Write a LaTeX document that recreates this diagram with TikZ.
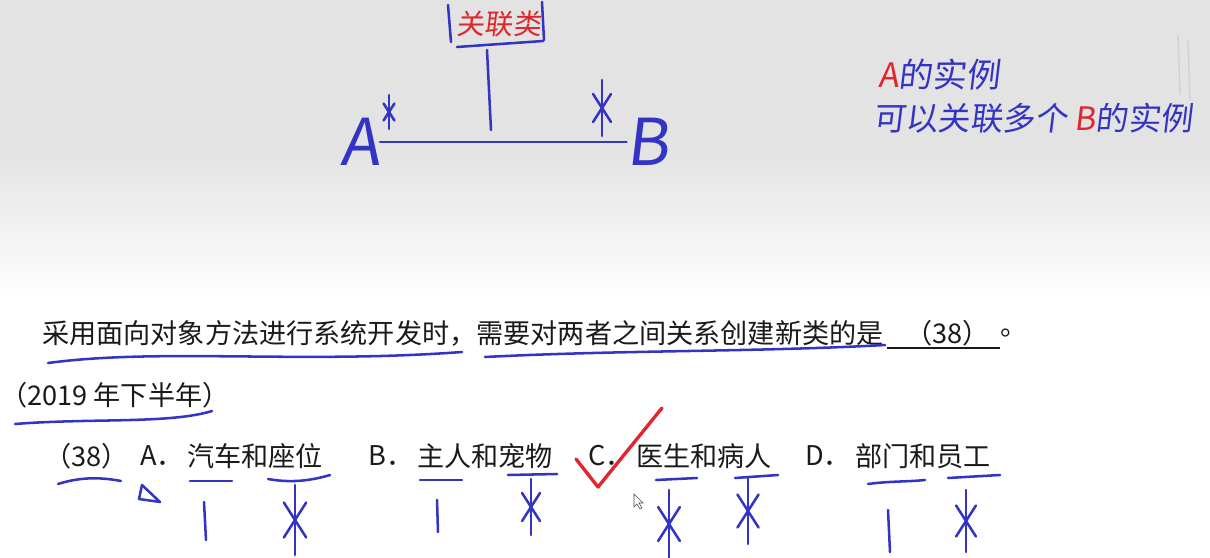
\documentclass[tikz,border=0pt]{standalone}
\usepackage{fontspec}
\newfontfamily\cjk{Noto Sans CJK SC}
\newfontfamily\handfont[FakeSlant=0.12]{Noto Sans CJK SC}
\usetikzlibrary{positioning}
\definecolor{penblue}{HTML}{3434C4}
\definecolor{penred}{HTML}{E0262E}
\definecolor{ink}{HTML}{1A1A1A}
\tikzset{
  pen/.style={draw=penblue,line width=1.8pt,line cap=round,line join=round},
  redpen/.style={pen,draw=penred},
  prt/.style={font=\cjk\fontsize{19.3}{23}\selectfont,text=ink,inner sep=0pt,anchor=west},
  hand/.style={font=\handfont\fontsize{23}{27}\selectfont,text=penblue,inner sep=0pt},
  big/.style={font=\handfont\fontsize{46}{50}\selectfont,text=penblue,inner sep=0pt},
  starmk/.pic={\draw[pen](0,-1)--(0,1);\draw[pen](-0.32,-0.5)--(0.32,0.5);\draw[pen](0.32,-0.5)--(-0.32,0.5);},
}
\begin{document}
\begin{tikzpicture}[x=0.025cm,y=-0.025cm]
\useasboundingbox (0,0) rectangle (1210,558);
% slide background
\fill[black!11] (0,0) rectangle (1210,150);
\shade[top color=black!11,bottom color=white] (0,150) rectangle (1210,300);
% association class sketch
\node[hand,text=penred,font=\handfont\fontsize{20}{24}\selectfont] (assoc) at (499,24) {关联类};
\draw[pen] (448,5) -- (451,42);
\draw[pen] (457,47) -- (543,41);
\draw[pen] (542,2) -- (544,40);
\node[big] (A) at (360,142) {A};
\node[big] (B) at (648,142) {B};
\draw[pen] (A.east) -- (B.west);
\draw[pen] (487,50) -- (491,130);
\pic[scale=17] at (389,112) {starmk};
\pic[scale=28] at (602,108) {starmk};
% note
\node[hand,anchor=west,font=\handfont\fontsize{24}{28}\selectfont] (noteA) at (878,75) {\textcolor{penred}{A}的实例};
\node[hand,anchor=west] (noteB) at (873,118) {可以关联多个 \textcolor{penred}{B}的实例};
\draw[black!18,line width=1pt] (1178,35) -- (1180,95);
\draw[black!18,line width=1pt] (1188,40) -- (1190,100);
% question
\node[prt] (stem) at (42,333) {采用面向对象方法进行系统开发时，需要对两者之间关系创建新类的是};
\node[prt] (blank) at (905,333) {（38）};
\draw[ink,line width=1.1pt] (887,348) -- (1000,348);
\node[prt] (stop) at (1000,333) {。};
\draw[pen] (48,363) .. controls (160,348) and (300,364) .. (462,352);
\draw[pen] (485,357) .. controls (620,350) and (760,352) .. (885,345);
\node[prt] (year) at (0,395) {（2019 年下半年）};
\draw[pen] (15,424) .. controls (90,418) and (170,424) .. (212,411);
% options
\node[prt] (qno) at (44,456) {（38）};
\node[prt] (optA) at (140,456) {A．};
\node[prt] (txtA) at (187,456) {汽车和座位};
\node[prt] (optB) at (368,456) {B．};
\node[prt] (txtB) at (417,456) {主人和宠物};
\node[prt] (optC) at (588,456) {C．};
\node[prt] (txtC) at (636,456) {医生和病人};
\node[prt] (optD) at (805,456) {D．};
\node[prt] (txtD) at (855,456) {部门和员工};
% marks under options
\draw[pen] (58,484) .. controls (80,477) and (100,477) .. (121,481);
\draw[pen] (142,485) -- (139,499) -- (160,502) -- cycle;
\draw[pen] (190,481) -- (232,481);
\draw[pen] (268,479) .. controls (290,483) and (310,481) .. (330,475);
\draw[pen] (420,480) -- (462,480);
\draw[pen] (508,475) -- (557,474);
\draw[pen] (656,480) -- (697,478);
\draw[pen] (735,478) -- (778,475);
\draw[pen] (868,484) .. controls (890,481) and (905,482) .. (925,480);
\draw[pen] (948,478) -- (1000,475);
\draw[pen] (204,502) -- (206,540);
\draw[pen] (437,500) -- (438,532);
\draw[pen] (888,510) -- (890,552);
\pic[scale=35] at (295,520) {starmk};
\pic[scale=28] at (531,507) {starmk};
\pic[scale=34] at (669,524) {starmk};
\pic[scale=33] at (748,511) {starmk};
\pic[scale=31] at (966,521) {starmk};
\draw[redpen,line width=2.4pt] (576,459) -- (598,487) -- (662,408);
\draw[black!70,fill=white,line width=0.4pt] (634,494) -- (634,507) -- (637,504) -- (640,509) -- (642,508) -- (639,503) -- (643,503) -- cycle;
\end{tikzpicture}
\end{document}
